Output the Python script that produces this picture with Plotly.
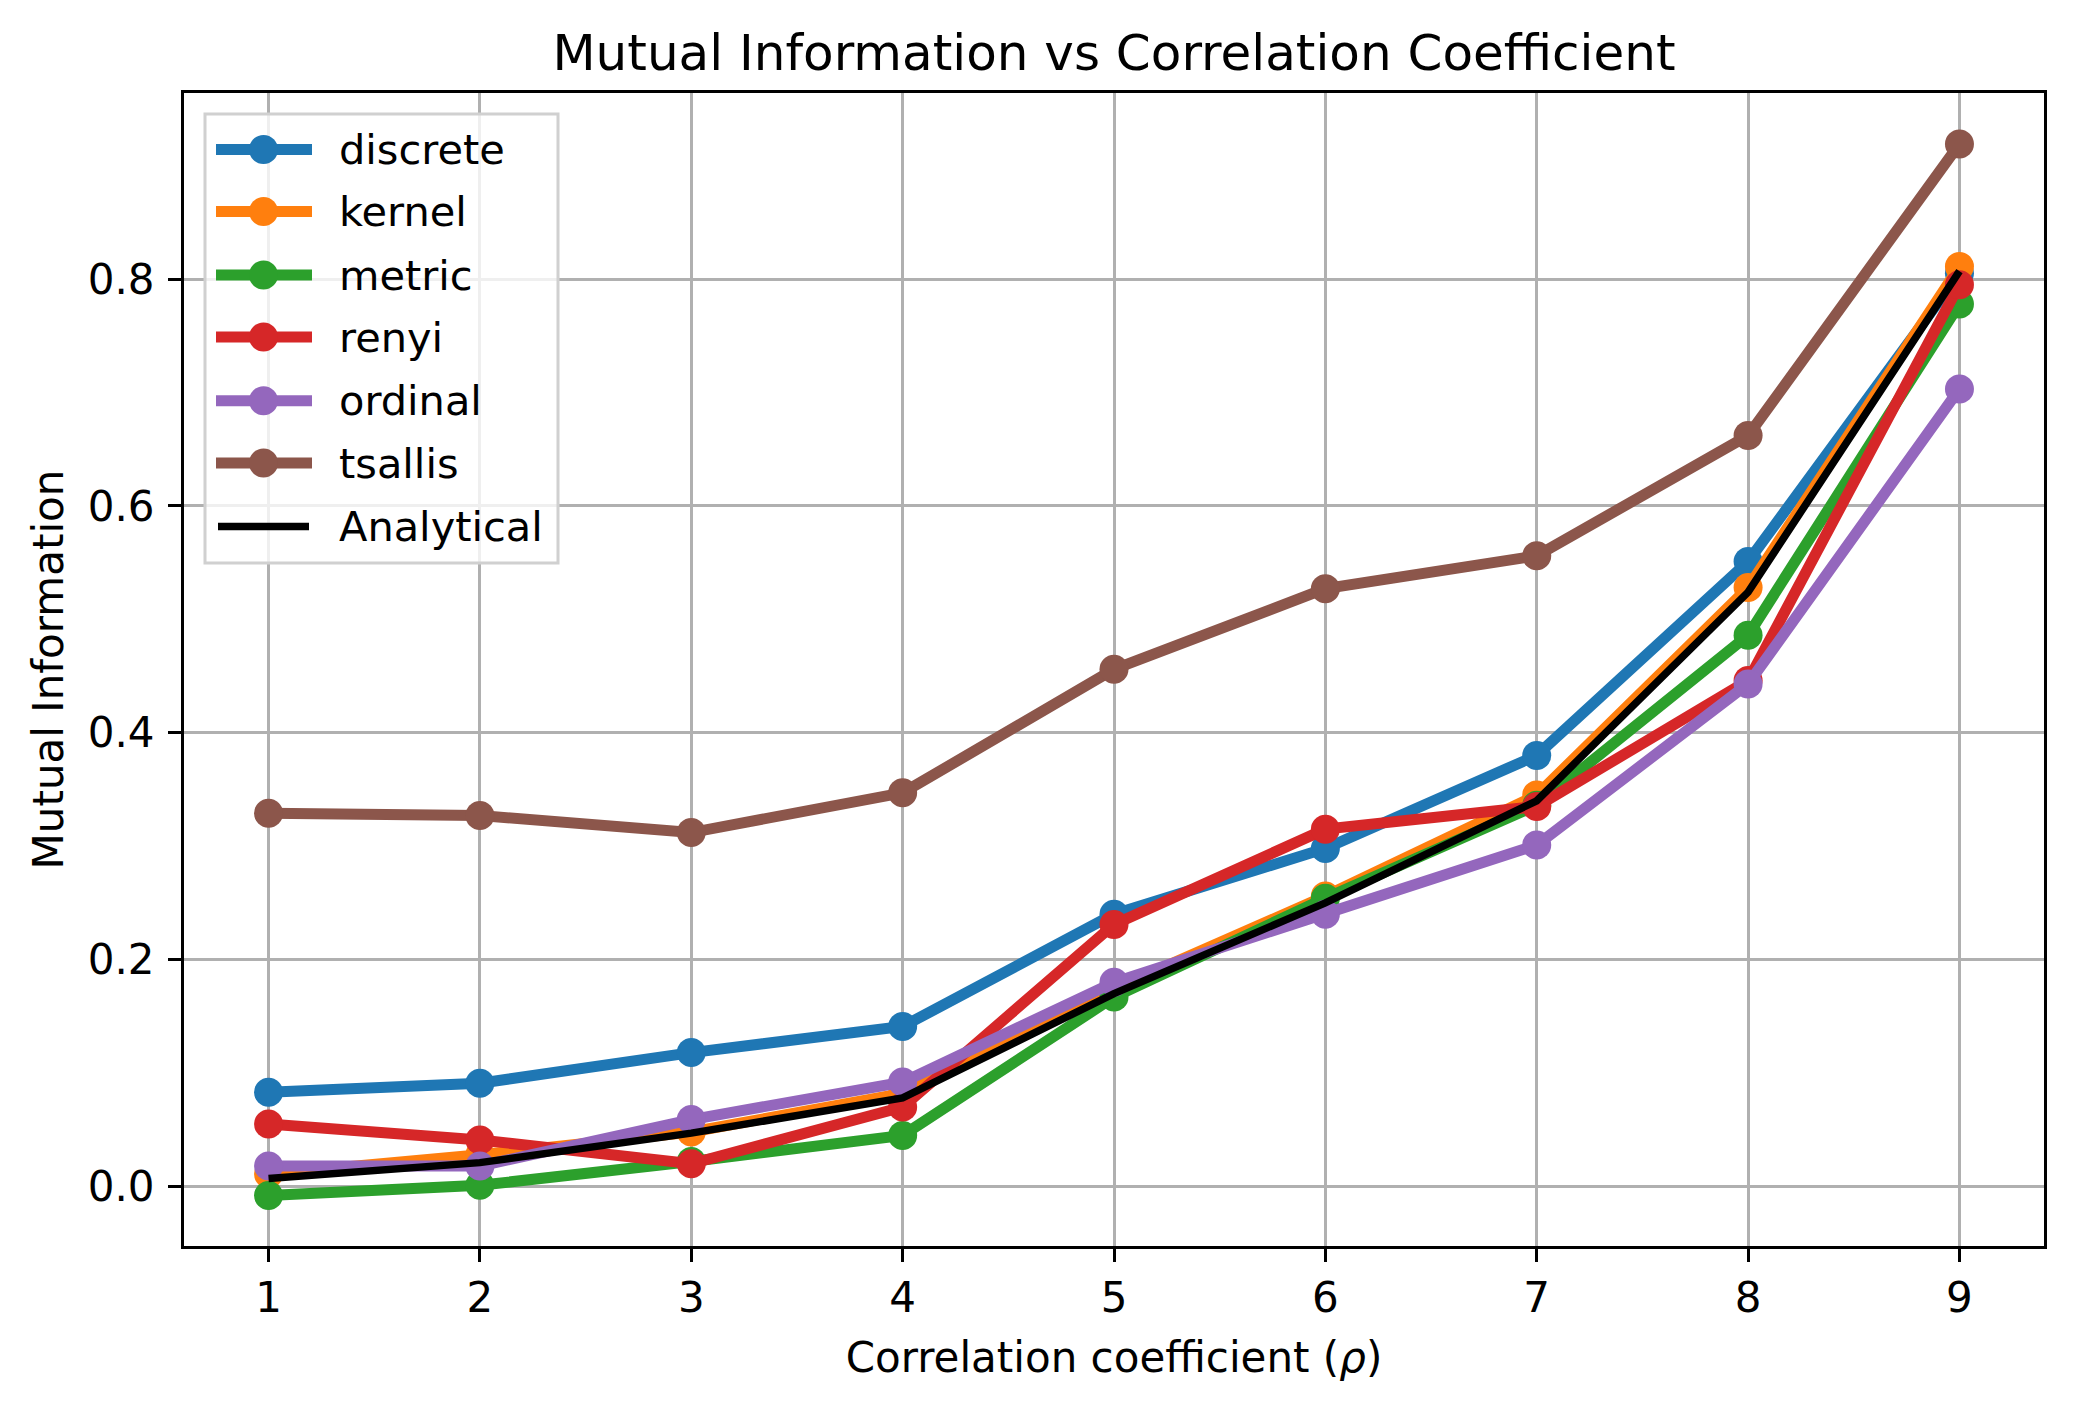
import plotly.graph_objects as go

# ---------------- data ----------------
rho = [1, 2, 3, 4, 5, 6, 7, 8, 9]
series_names = ["discrete", "kernel", "metric", "renyi", "ordinal", "tsallis"]
discrete = [0.083, 0.091, 0.118, 0.141, 0.240, 0.298, 0.380, 0.551, 0.805]
kernel = [0.011, 0.028, 0.048, 0.082, 0.174, 0.256, 0.345, 0.528, 0.811]
metric = [-0.008, 0.001, 0.022, 0.045, 0.167, 0.254, 0.336, 0.486, 0.778]
renyi = [0.055, 0.041, 0.020, 0.070, 0.231, 0.315, 0.335, 0.446, 0.795]
ordinal = [0.018, 0.018, 0.059, 0.092, 0.180, 0.240, 0.301, 0.443, 0.703]
tsallis = [0.329, 0.327, 0.312, 0.347, 0.456, 0.527, 0.556, 0.662, 0.919]
analytical = [0.007, 0.021, 0.047, 0.078, 0.170, 0.250, 0.340, 0.524, 0.807]
yticks = [0.0, 0.2, 0.4, 0.6, 0.8]

colors = ["#1f77b4", "#ff7f0e", "#2ca02c", "#d62728", "#9467bd", "#8c564b"]
values = [discrete, kernel, metric, renyi, ordinal, tsallis]

W, H = 2074, 1411
L, R, T, B = 184, 30, 93, 165
PW, PH = W - L - R, H - T - B
FONT = "DejaVu Sans"
TICK_FS = 42
LABEL_FS = 42
LEGEND_FS = 41.5
TITLE_FS = 50

fig = go.Figure()
for name, vals, col in zip(series_names, values, colors):
    fig.add_trace(go.Scatter(
        x=rho, y=vals, name=name, mode="lines+markers",
        line=dict(color=col, width=11),
        marker=dict(color=col, size=29, line=dict(width=0)),
        showlegend=False,
    ))
fig.add_trace(go.Scatter(
    x=rho, y=analytical, name="Analytical", mode="lines",
    line=dict(color="black", width=7.5), showlegend=False,
))

# ---------------- custom legend (matplotlib style) ----------------
def px2x(px):
    return (px - L) / PW

def py2y(py):
    return (H - B - py) / PH

shapes = []
annotations = []
shapes.append(dict(type="rect", xref="paper", yref="paper",
                   x0=px2x(205), x1=px2x(558), y0=py2y(563), y1=py2y(114),
                   fillcolor="rgba(255,255,255,0.8)",
                   line=dict(color="#d0d0d0", width=3), layer="above"))
row_y = [149.5, 211.6, 275, 337, 400.8, 463, 526.5]
labels = series_names + ["Analytical"]
lcolors = colors + ["black"]
for i, (lab, col) in enumerate(zip(labels, lcolors)):
    yy = py2y(row_y[i])
    is_an = lab == "Analytical"
    shapes.append(dict(type="line", xref="paper", yref="paper",
                       x0=px2x(216 if not is_an else 218), x1=px2x(312 if not is_an else 309),
                       y0=yy, y1=yy,
                       line=dict(color=col, width=11 if not is_an else 7.5),
                       layer="above"))
    if not is_an:
        shapes.append(dict(type="circle", xref="paper", yref="paper",
                           xsizemode="pixel", ysizemode="pixel",
                           xanchor=px2x(263.5), yanchor=yy,
                           x0=-14.5, x1=14.5, y0=-14.5, y1=14.5,
                           fillcolor=col, line=dict(width=0), layer="above"))
    annotations.append(dict(xref="paper", yref="paper", x=px2x(337), y=yy,
                            xanchor="left", yanchor="middle", showarrow=False,
                            text=lab, font=dict(family=FONT, size=LEGEND_FS, color="black")))

fig.update_layout(
    width=W, height=H,
    margin=dict(l=L, r=R, t=T, b=B, pad=0),
    paper_bgcolor="white", plot_bgcolor="white",
    font=dict(family=FONT, size=TICK_FS, color="black"),
    title=dict(text="Mutual Information vs Correlation Coefficient",
               x=(L + PW / 2) / W, xanchor="center",
               y=1 - 52 / H, yanchor="middle",
               font=dict(family=FONT, size=TITLE_FS, color="black")),
    shapes=shapes,
    annotations=annotations,
    showlegend=False,
)
fig.update_xaxes(
    range=[0.6, 9.4], tickmode="array", tickvals=rho, ticktext=[str(v) for v in rho],
    showgrid=True, gridcolor="#b0b0b0", gridwidth=3,
    showline=True, linecolor="black", linewidth=3, mirror=True,
    ticks="outside", ticklen=13, tickwidth=3, tickcolor="black",
    ticklabelstandoff=0,
    zeroline=False,
    tickfont=dict(family=FONT, size=TICK_FS, color="black"),
    title=dict(text="Correlation coefficient (<i>ρ</i>)", standoff=22,
               font=dict(family=FONT, size=LABEL_FS, color="black")),
)
fig.update_yaxes(
    range=[-0.0525, 0.964], tickmode="array", tickvals=yticks,
    ticktext=[f"{v:.1f}" for v in yticks],
    showgrid=True, gridcolor="#b0b0b0", gridwidth=3,
    showline=True, linecolor="black", linewidth=3, mirror=True,
    ticks="outside", ticklen=13, tickwidth=3, tickcolor="black",
    ticklabelstandoff=5,
    zeroline=False,
    tickfont=dict(family=FONT, size=TICK_FS, color="black"),
    title=dict(text="Mutual Information", standoff=12,
               font=dict(family=FONT, size=LABEL_FS, color="black")),
)

fig.write_html("out.html")
